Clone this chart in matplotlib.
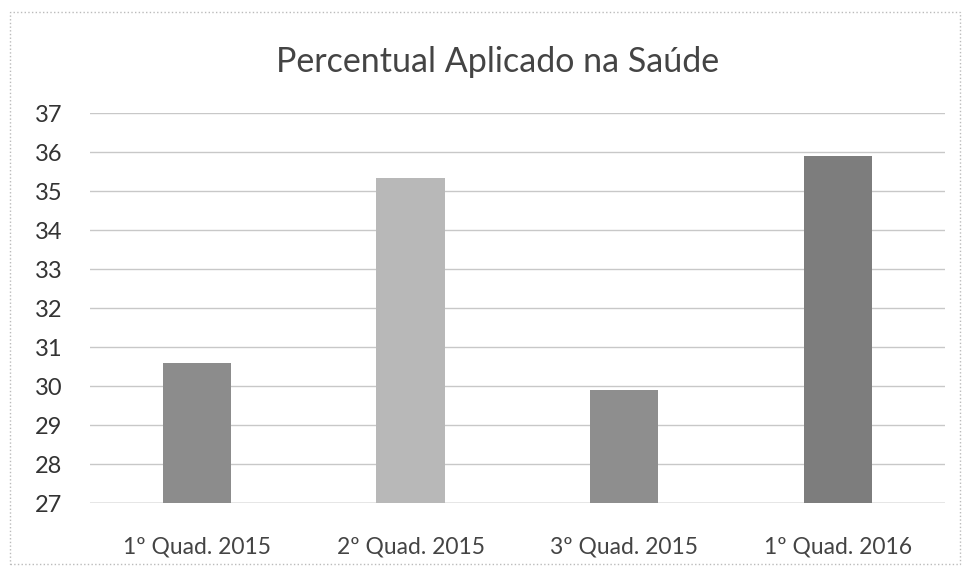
import matplotlib
matplotlib.use("Agg")
import matplotlib.pyplot as plt
from matplotlib.patches import Rectangle

categories = ["1º Quad. 2015", "2º Quad. 2015", "3º Quad. 2015", "1º Quad. 2016"]
values = [30.6, 35.35, 29.9, 35.9]
bar_colors = ["#8c8c8c", "#b8b8b8", "#8e8e8e", "#7d7d7d"]
yticks = list(range(27, 38))

plt.rcParams['font.family'] = ['Lato', 'DejaVu Sans']

fig = plt.figure(figsize=(9.7, 5.75), dpi=100)
ax = fig.add_axes([0.093, 0.125, 0.881, 0.678])

x = list(range(len(categories)))
ax.bar(x, [v - 27 for v in values], bottom=27, width=0.32, color=bar_colors, zorder=3)
ax.set_xlim(-0.5, len(categories) - 0.5)
ax.set_ylim(27, 37)
ax.set_yticks(yticks)
ax.set_yticklabels([str(t) for t in yticks], fontsize=17, color="#333333")
ax.set_xticks(x)
ax.set_xticklabels(categories, fontsize=16.5, color="#444444")
ax.tick_params(axis='y', length=0, pad=20)
ax.tick_params(axis='x', length=0, pad=24)
ax.grid(axis='y', color="#c8c8c8", linewidth=1, zorder=0)
for s in ax.spines.values():
    s.set_visible(False)
ax.axhline(27, color="#b0b0b0", linewidth=1, zorder=2)

fig.suptitle("Percentual Aplicado na Saúde", x=0.513, y=0.92, fontsize=24.5, color="#444444")

fig.patches.append(Rectangle((0.01, 0.02), 0.98, 0.96, transform=fig.transFigure,
                             fill=False, edgecolor="#bbbbbb", linewidth=1, linestyle=":"))

fig.savefig("out.png", dpi=100)
